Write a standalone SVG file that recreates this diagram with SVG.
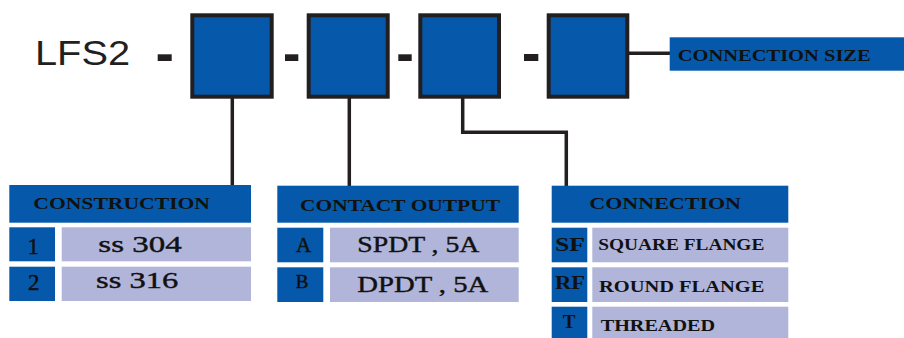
<svg xmlns="http://www.w3.org/2000/svg" width="904" height="338" viewBox="0 0 904 338">
<style>
.box{fill:#0659aa;stroke:#231f20;stroke-width:4}
.dk{fill:#0659aa}
.lt{fill:#b1b5d9}
.ln{fill:none;stroke:#231f20;stroke-width:3.5}
.dash{fill:#231f20}
.hd{font-family:"Liberation Serif",serif;font-weight:bold;font-size:16px;fill:#111}
.cell{font-family:"Liberation Serif",serif;font-size:23px;fill:#111;stroke:#111;stroke-width:0.4}
.code{font-family:"Liberation Serif",serif;fill:#111;stroke:#111;stroke-width:0.5}
.codeb{font-family:"Liberation Serif",serif;font-weight:bold;font-size:19px;fill:#111}
</style>
<rect width="904" height="338" fill="#ffffff"/>
<g id="title">
<text x="35" y="65" font-family="Liberation Sans,sans-serif" font-size="35" fill="#231f20" textLength="95" lengthAdjust="spacingAndGlyphs">LFS2</text>
<rect class="dash" x="157.7" y="54.3" width="14" height="6.7"/>
<rect class="dash" x="285" y="54.3" width="13.3" height="6.7"/>
<rect class="dash" x="398.3" y="54.3" width="13.4" height="6.7"/>
<rect class="dash" x="524" y="54" width="14.3" height="7"/>
</g>
<g id="connectors">
<path class="ln" d="M232.3 97 V185"/>
<path class="ln" d="M349.3 97 V186"/>
<path class="ln" d="M462.7 97 V132.3 H566.3 V186"/>
<path class="ln" d="M628 53.3 H670"/>
</g>
<g id="box1"><rect class="box" x="192.3" y="15.3" width="79.4" height="81.4"/></g>
<g id="box2"><rect class="box" x="308.7" y="15.3" width="79" height="81.4"/></g>
<g id="box3"><rect class="box" x="420.3" y="15.3" width="78.7" height="81.4"/></g>
<g id="box4"><rect class="box" x="548.7" y="15.3" width="78.6" height="81.4"/></g>
<g id="connection-size">
<rect class="dk" x="669.7" y="37.3" width="234.3" height="33.4"/>
<text class="hd" x="677.7" y="61" textLength="193" lengthAdjust="spacingAndGlyphs">CONNECTION SIZE</text>
</g>
<g id="construction">
<rect class="dk" x="9.3" y="185" width="241.7" height="37.7"/>
<text class="hd" x="33.3" y="209.3" textLength="176.7" lengthAdjust="spacingAndGlyphs">CONSTRUCTION</text>
<rect class="dk" x="9.3" y="227.3" width="45.7" height="34"/>
<rect class="lt" x="61.7" y="227.3" width="189.3" height="34"/>
<text class="code" x="33.3" y="254.3" text-anchor="middle" font-size="23">1</text>
<text class="cell" x="98.3" y="251.7" textLength="83.4" lengthAdjust="spacingAndGlyphs">ss 304</text>
<rect class="dk" x="9.3" y="266.7" width="45.7" height="34.3"/>
<rect class="lt" x="61.7" y="266.7" width="189.3" height="34.3"/>
<text class="code" x="33.8" y="290" text-anchor="middle" font-size="23">2</text>
<text class="cell" x="96" y="288.3" textLength="82.3" lengthAdjust="spacingAndGlyphs">ss 316</text>
</g>
<g id="contact-output">
<rect class="dk" x="277.3" y="185.7" width="241.4" height="37"/>
<text class="hd" x="300" y="210.7" textLength="200" lengthAdjust="spacingAndGlyphs">CONTACT OUTPUT</text>
<rect class="dk" x="277.3" y="227.7" width="46" height="34.6"/>
<rect class="lt" x="330" y="227.7" width="188.7" height="34.6"/>
<text class="code" x="303.7" y="251.7" text-anchor="middle" font-size="21">A</text>
<text class="cell" x="357.3" y="251.7" textLength="122" lengthAdjust="spacingAndGlyphs">SPDT , 5A</text>
<rect class="dk" x="277.3" y="267.3" width="46" height="34.7"/>
<rect class="lt" x="330" y="267.3" width="188.7" height="34.7"/>
<text class="code" x="302.2" y="288.3" text-anchor="middle" font-size="19">B</text>
<text class="cell" x="357.3" y="291.7" textLength="131" lengthAdjust="spacingAndGlyphs">DPDT , 5A</text>
</g>
<g id="connection">
<rect class="dk" x="551.7" y="185.7" width="236.6" height="37"/>
<text class="hd" x="589.3" y="209" textLength="151.7" lengthAdjust="spacingAndGlyphs">CONNECTION</text>
<rect class="dk" x="551.7" y="227.7" width="35.6" height="34.6"/>
<rect class="lt" x="592.3" y="227.7" width="196" height="34.6"/>
<text class="codeb" x="555" y="251" textLength="30" lengthAdjust="spacingAndGlyphs">SF</text>
<text class="hd" x="598.3" y="250.3" textLength="166" lengthAdjust="spacingAndGlyphs">SQUARE FLANGE</text>
<rect class="dk" x="551.7" y="267.3" width="35.6" height="34.7"/>
<rect class="lt" x="592.3" y="267.3" width="196" height="34.7"/>
<text class="codeb" x="555" y="289" textLength="30" lengthAdjust="spacingAndGlyphs">RF</text>
<text class="hd" x="599" y="292.3" textLength="165.3" lengthAdjust="spacingAndGlyphs">ROUND FLANGE</text>
<rect class="dk" x="551.7" y="306.7" width="35.6" height="31.3"/>
<rect class="lt" x="592.3" y="306.7" width="196" height="31.3"/>
<text class="codeb" x="569.2" y="328.3" text-anchor="middle" font-size="21">T</text>
<text class="hd" x="600.7" y="330.7" textLength="114.3" lengthAdjust="spacingAndGlyphs">THREADED</text>
</g>
</svg>
